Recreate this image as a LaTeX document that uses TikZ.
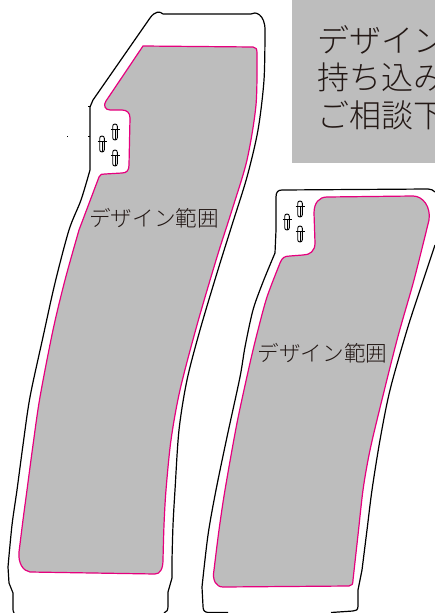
\documentclass[tikz,border=0pt]{standalone}
\usepackage{fontspec}
\newfontfamily\jpfont{Noto Sans CJK JP Light}
\definecolor{areaGray}{RGB}{189,189,189}
\definecolor{areaPink}{RGB}{230,0,126}
\definecolor{textDark}{RGB}{35,24,21}
\begin{document}
\begin{tikzpicture}
[x=1pt,y=-1pt,
  outerDecorate/.style={line width=1.2pt,black},
  areaDecorate/.style={fill=areaGray,draw=areaPink,line width=1.2pt},
  slotDecorate/.style={line width=.9pt,black},
  labelDecorate/.style={inner sep=0pt,text=textDark,font=\jpfont\fontsize{21.6}{21.6}\selectfont},
  noteDecorate/.style={inner sep=0pt,anchor=west,text=textDark,font=\jpfont\fontsize{32}{32}\selectfont}]
\useasboundingbox (0,0) rectangle (434,613);
%% note box
\fill[areaGray] (292,-1) rectangle (435,163);
\foreach \nodename/\y/\note in {
  noteA/40/デザイン,
  noteB/77/持ち込み,
  noteC/115/ご相談下}
{
  \node (\nodename) at (317,\y) [noteDecorate] {\note};
}
%% left outline
\draw[outerDecorate] (163,14) -- (251,14)
  .. controls (255,11) and (265,14) .. (265,30)
  -- plot[smooth] coordinates {(265,30) (264,80) (258,130) (247,177) (232,225) (217,273) (200,330) (187,380) (179,430) (175,490) (173,525) (172,560)}
  -- (172,578) -- (168,592) -- (168,606)
  .. controls (168,610) and (167,612) .. (164,613)
  (14,613) .. controls (13,612) and (13,610) .. (13,606)
  -- (13,593) -- (9,583) -- (8,567)
  -- plot[smooth] coordinates {(8,567) (12,525) (17,490) (23,445) (30,397) (43,337) (55,283) (69,230) (81,200) (90,170)}
  -- (90,107) -- (93,100) -- (150,18)
  .. controls (155,11) and (160,11) .. (163,14);
\draw[line width=.8pt,black!50] (15,613) -- (37,613) (143,613) -- (165,613);
%% left design area
\draw[areaDecorate] (143,46) -- (253,47)
  .. controls (256,47) and (257,49) .. (257,53)
  -- plot[smooth] coordinates {(257,53) (256,105) (247,160) (232,210) (217,257) (197,325) (180,390) (171,440) (166,490) (164,525) (163,560)}
  .. controls (163,569) and (160,574) .. (155,574)
  -- (30,572)
  .. controls (23,571) and (18,563) .. (19,552)
  -- plot[smooth] coordinates {(19,552) (23,520) (27,490) (33,445) (40,397) (53,330) (65,280) (79,230)}
  -- (99,177)
  .. controls (100,174) and (102,174) .. (105,174)
  -- (122,173)
  .. controls (127,173) and (129,170) .. (129,165)
  -- (130,118)
  .. controls (130,113) and (127,110) .. (122,110)
  -- (110,110)
  .. controls (105,110) and (103,105) .. (106,101)
  -- cycle;
%% right outline
\draw[outerDecorate] (276,230) -- (276,197)
  .. controls (276,192) and (278,190) .. (282,190)
  -- (428,189) .. controls (431,189) and (433,190) .. (435,192)
  plot[smooth] coordinates {(435,245) (420,290) (407,330) (390,390) (380,440) (372,490) (367,530) (362,570)}
  -- (358,590) -- (358,606)
  .. controls (358,610) and (356,611) .. (353,611)
  -- (331,612.5)
  (228,612.5) -- (208,612.5)
  .. controls (204,612) and (203,610) .. (203,606)
  -- (202,587)
  -- plot[smooth] coordinates {(202,587) (208,535) (216,490) (227,437) (240,377) (245,347) (253,310) (263,282) (275,253)}
  -- (276,230);
%% right design area
\draw[areaDecorate] (327,197) -- (413,196)
  .. controls (423,196) and (431,207) .. (429,220)
  -- plot[smooth] coordinates {(429,220) (414,280) (397,340) (377,420) (369,455) (363,490) (358,535) (353,580)}
  .. controls (353,584) and (352,586) .. (349,586)
  -- (223,587)
  .. controls (216,587) and (212,580) .. (214,570)
  -- plot[smooth] coordinates {(214,570) (219,530) (225,490) (237,423) (250,363) (258,330) (267,297) (280,263)}
  .. controls (282,258) and (284,256) .. (290,256)
  -- (303,255)
  .. controls (310,255) and (315,251) .. (315,243)
  -- (314,213)
  .. controls (314,203) and (319,197) .. (327,197)
  -- cycle;
%% slots
\foreach \slotname/\x/\y in {
  slotA/115/132,
  slotB/102/144,
  slotC/115/158,
  slotD/300/209,
  slotE/287/222,
  slotF/300/234}
{
  \coordinate (\slotname) at (\x,\y);
  \draw[slotDecorate,rounded corners=2.2pt] ([shift={(-2.3,-8)}]\slotname) rectangle ([shift={(2.3,8)}]\slotname);
  \draw[slotDecorate] ([yshift=-8pt]\slotname) -- ([yshift=2pt]\slotname);
  \draw[slotDecorate] ([shift={(-4.5,-2.5)}]\slotname) -- ([shift={(4.5,-2.5)}]\slotname);
}
%% stray marks
\fill (66.5,135.7) rectangle (68,136.5);
\fill (88,135.7) rectangle (90,136.5);
\fill (88,105.5) rectangle (90,106.5);
%% labels
\node (labelLeft) at (154,218) [labelDecorate] {デザイン範囲};
\node (labelRight) at (322.5,353) [labelDecorate] {デザイン範囲};
\end{tikzpicture}
\end{document}
